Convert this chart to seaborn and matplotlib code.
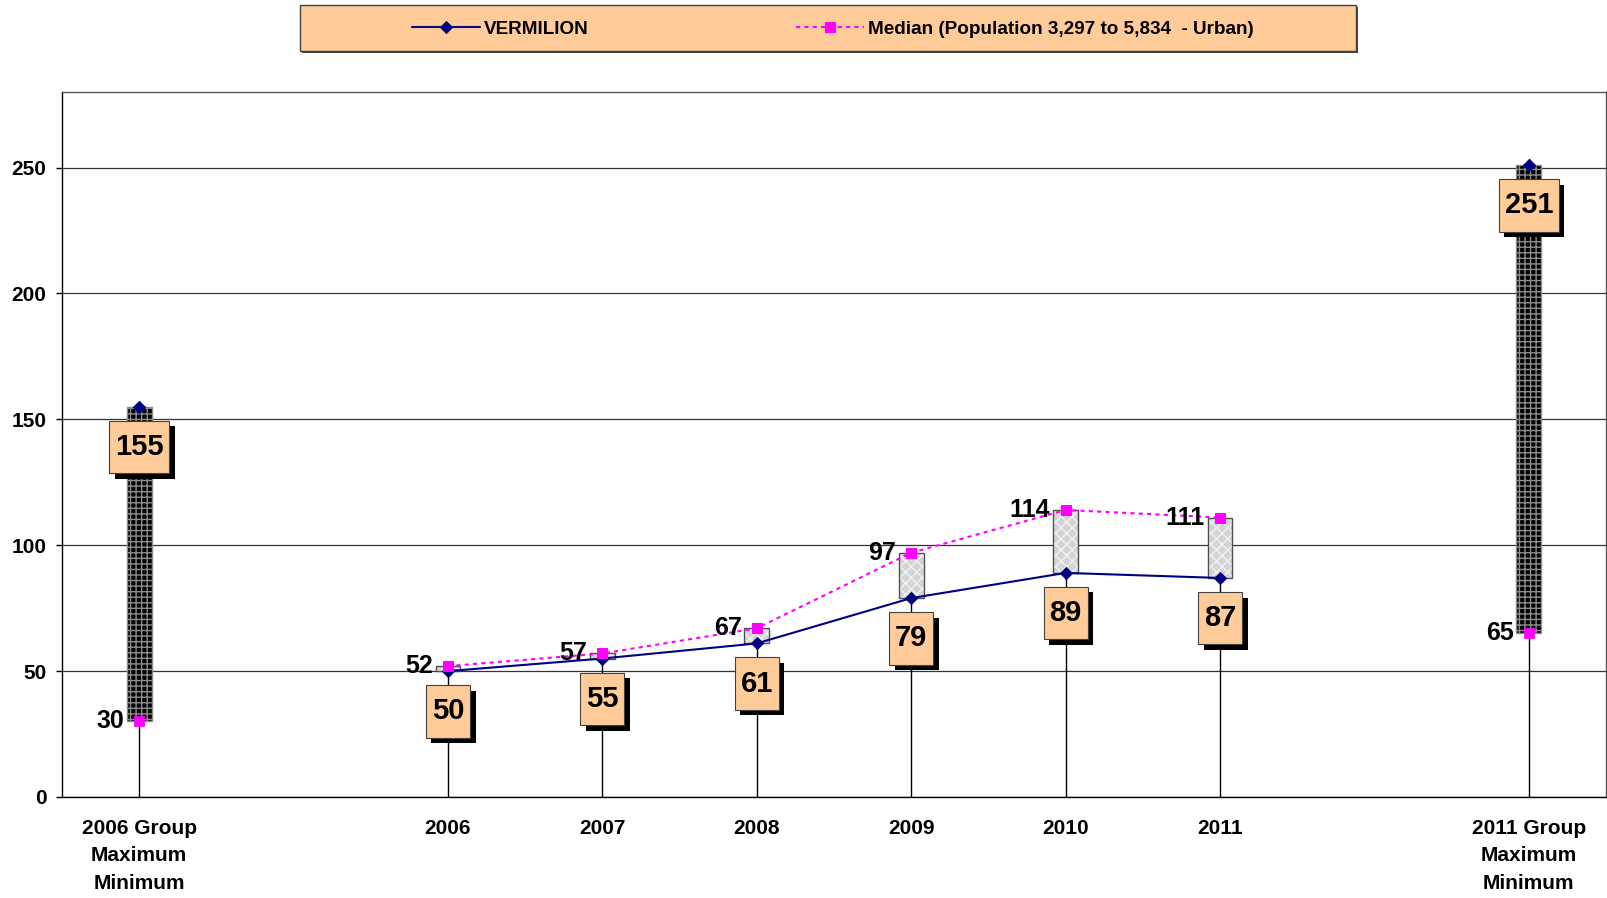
import numpy as np
import pandas as pd
import matplotlib
matplotlib.use("Agg")
import matplotlib.pyplot as plt
import seaborn as sns
from matplotlib.path import Path
from matplotlib import patheffects as pe
from matplotlib.patches import Rectangle

# ---------------- data ----------------
categories = ["2006 Group\nMaximum\nMinimum", "", "2006", "2007", "2008", "2009",
              "2010", "2011", "", "2011 Group\nMaximum\nMinimum"]
vermilion = [155, np.nan, 50, 55, 61, 79, 89, 87, np.nan, 251]
median = [30, np.nan, 52, 57, 67, 97, 114, 111, np.nan, 65]
group_idx = [0, 9]
year_idx = [2, 3, 4, 5, 6, 7]
y_ticks = [0, 50, 100, 150, 200, 250]
series_labels = ["VERMILION", "Median (Population 3,297 to 5,834  - Urban)"]

df = pd.DataFrame({"pos": np.arange(len(categories)), "cat": categories,
                   "VERMILION": vermilion, "Median": median})

# ---------------- style ----------------
sns.set_style("white")
plt.rcParams["font.family"] = ["Liberation Sans", "DejaVu Sans"]
plt.rcParams["hatch.linewidth"] = 1.0
plt.rcParams["text.color"] = "black"
plt.rcParams["xtick.color"] = "black"
plt.rcParams["ytick.color"] = "black"
plt.rcParams["xtick.labelcolor"] = "black"
plt.rcParams["ytick.labelcolor"] = "black"

NAVY = "#000080"
MAGENTA = "#FF00FF"
PEACH = "#FFCC99"

fig = plt.figure(figsize=(16.08, 8.98), dpi=100)
ax = fig.add_axes([62 / 1608, 1 - 797 / 898, (1606 - 62) / 1608, (797 - 92) / 898])

# drop lines
for i in group_idx + year_idx:
    top = max(df.VERMILION[i], df.Median[i])
    ax.vlines(df.pos[i], 0, top, color="black", lw=1, zorder=1.5)

# up/down bars
bw = 0.16
for i in year_idx:
    lo = min(df.VERMILION[i], df.Median[i])
    hi = max(df.VERMILION[i], df.Median[i])
    ax.bar(df.pos[i], hi - lo, bottom=lo, width=bw, color="#D4D4D4",
           edgecolor="#F2F2F2", hatch="xxx", lw=0, zorder=2)
    ax.bar(df.pos[i], hi - lo, bottom=lo, width=bw, fill=False,
           edgecolor="#505050", lw=1, zorder=2.1)
for i in group_idx:
    lo = df.Median[i]
    hi = df.VERMILION[i]
    ax.bar(df.pos[i], hi - lo, bottom=lo, width=bw, color="black",
           edgecolor="#8C8C8C", hatch="+++", lw=1, zorder=2)

# lines
yr = df.iloc[year_idx]
gr = df.iloc[group_idx]
sns.lineplot(data=yr, x="pos", y="VERMILION", color=NAVY, marker="D", markersize=6.5,
             markeredgecolor=NAVY, linewidth=1.5, label=series_labels[0],
             legend=False, errorbar=None, ax=ax, zorder=4)
sns.lineplot(data=yr, x="pos", y="Median", color=MAGENTA, marker="s", markersize=6.5,
             markeredgecolor=MAGENTA, linewidth=1.5, linestyle=(0, (2, 2)),
             label=series_labels[1], legend=False, errorbar=None, ax=ax, zorder=4)
sns.scatterplot(data=gr, x="pos", y="VERMILION", marker="D", s=42, color=NAVY,
                edgecolor=NAVY, legend=False, ax=ax, zorder=4)
sns.scatterplot(data=gr, x="pos", y="Median", marker="s", s=42, color=MAGENTA,
                edgecolor=MAGENTA, legend=False, ax=ax, zorder=4)


# label boxes
def tallbox(x0, y0, width, height, mutation_size):
    px = 0.2 * mutation_size
    py = 0.42 * mutation_size
    x1, y1 = x0 + width, y0 + height
    verts = [(x0 - px, y0 - py), (x1 + px, y0 - py), (x1 + px, y1 + py),
             (x0 - px, y1 + py), (x0 - px, y0 - py)]
    return Path(verts, closed=True)


for i in group_idx + year_idx:
    v = df.VERMILION[i]
    t = ax.annotate(f"{v:.0f}", xy=(df.pos[i], v), xytext=(0, -29),
                    textcoords="offset points", ha="center", va="center",
                    fontsize=21, fontweight="bold", zorder=6, color="black",
                    bbox=dict(boxstyle=tallbox, fc=PEACH, ec="#404040", lw=0.8))
    t.get_bbox_patch().set_path_effects([
        pe.SimplePatchShadow(offset=(4, -4), shadow_rgbFace="black", alpha=1.0),
        pe.Normal()])
    m = df.Median[i]
    ax.annotate(f"{m:.0f}", xy=(df.pos[i], m), xytext=(-11, 0),
                textcoords="offset points", ha="right", va="center",
                fontsize=18, fontweight="bold", zorder=6, color="black")

# axes
ax.set_xlim(-0.5, len(categories) - 0.5)
ax.set_ylim(0, 280)
ax.set_xlabel("")
ax.set_ylabel("")
ax.set_xticks(df.pos)
ax.set_xticklabels(categories, fontsize=15, fontweight="bold", linespacing=1.55,
                   color="black")
ax.set_xticks(np.arange(-0.5, len(categories), 1), minor=True)
ax.tick_params(axis="x", which="major", length=0, pad=16)
ax.tick_params(axis="x", which="minor", length=5.8, width=1, direction="out", color="black")
ax.set_yticks(y_ticks)
ax.set_yticklabels([str(v) for v in y_ticks], fontsize=15, fontweight="bold",
                   color="black")
ax.tick_params(axis="y", length=4.3, width=1, direction="out", pad=7, color="black",
               left=True)
ax.yaxis.grid(True, color="#333333", lw=0.9)
ax.xaxis.grid(False)
ax.set_axisbelow(True)
for s in ["left", "bottom"]:
    ax.spines[s].set_color("black")
    ax.spines[s].set_linewidth(1)
for s in ["top", "right"]:
    ax.spines[s].set_color("#555555")
    ax.spines[s].set_linewidth(1)

# legend box
box = Rectangle((300 / 1608, 1 - 51 / 898), 1056 / 1608, 46 / 898,
                transform=fig.transFigure, fc=PEACH, ec="#404040", lw=1, zorder=0)
box.set_path_effects([pe.SimplePatchShadow(offset=(1.5, -1.5), shadow_rgbFace="#444444",
                                           alpha=1.0), pe.Normal()])
fig.patches.append(box)
h, l = ax.get_legend_handles_labels()
leg = fig.legend(h, l, loc="center", bbox_to_anchor=(833 / 1608, 1 - 29 / 898), ncol=2,
                 frameon=False, prop=dict(weight="bold", size=13.6), handlelength=3.6,
                 handletextpad=0.2, columnspacing=11.0)
for txt in leg.get_texts():
    txt.set_color("black")

fig.savefig("out.png", dpi=100)
